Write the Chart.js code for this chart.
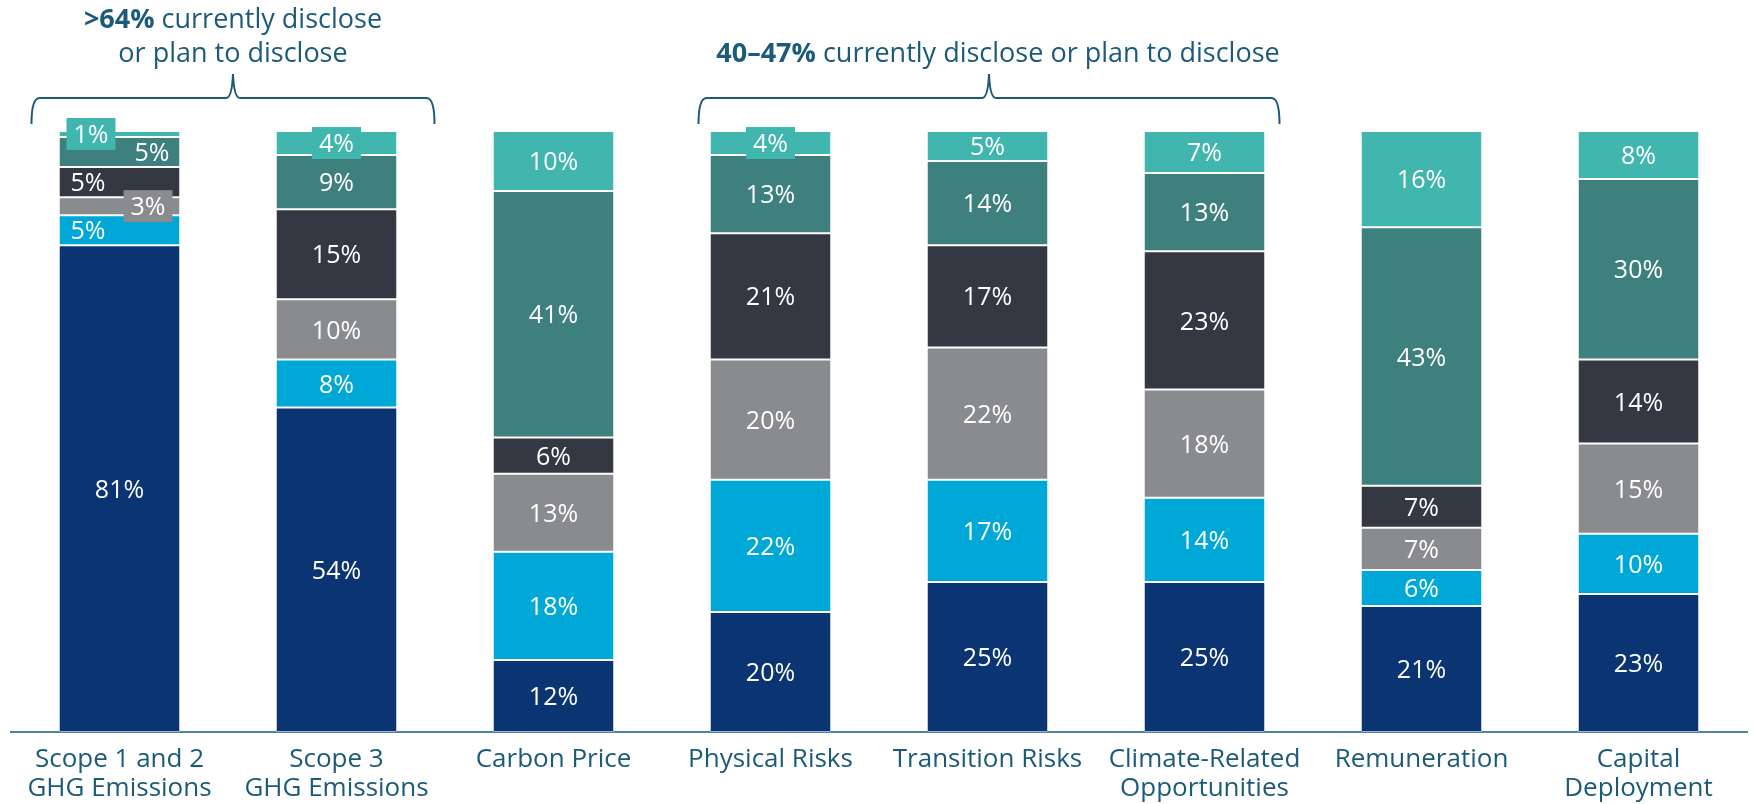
<!DOCTYPE html>
<html>
<head>
<meta charset="utf-8">
<script src="https://cdn.jsdelivr.net/npm/chart.js@4/dist/chart.umd.min.js"></script>
<style>
  html, body { margin: 0; padding: 0; background: #ffffff; }
  canvas { display: block; }
</style>
</head>
<body>
<canvas id="disclosure" width="1755" height="804"></canvas>
<script>
(function () {
    "use strict";

    // Categories along the x axis (multi-line where the label wraps)
    var categories = [
        ['Scope 1 and 2', 'GHG Emissions'],
        ['Scope 3', 'GHG Emissions'],
        'Carbon Price',
        'Physical Risks',
        'Transition Risks',
        ['Climate-Related', 'Opportunities'],
        'Remuneration',
        ['Capital', 'Deployment']
    ];

    // Stacked shares in %, bottom segment first
    var seriesNavy     = [81, 54, 12, 20, 25, 25, 21, 23];
    var seriesBlue     = [5, 8, 18, 22, 17, 14, 6, 10];
    var seriesGray     = [3, 10, 13, 20, 22, 18, 7, 15];
    var seriesCharcoal = [5, 15, 6, 21, 17, 23, 7, 14];
    var seriesTeal     = [5, 9, 41, 13, 14, 13, 43, 30];
    var seriesLight    = [1, 4, 10, 4, 5, 7, 16, 8];

    var TEXT = '#1b5a79';
    var FONT = "'Open Sans', 'DejaVu Sans', sans-serif";

    var colors = ['#0a3572', '#00a8d8', '#898b8f', '#343843', '#3e807e', '#41b6af'];
    var seriesList = [seriesNavy, seriesBlue, seriesGray, seriesCharcoal, seriesTeal, seriesLight];

    // Label placement inside the first bar where segments are thin
    var labelAlign = {
        0: ['center', 'left', 'right', 'left', 'right', 'left']
    };

    var datasets = seriesList.map(function (values, i) {
        return {
            label: 'Series ' + (i + 1),
            data: values,
            backgroundColor: colors[i],
            borderColor: '#ffffff',
            borderWidth: { top: 1, bottom: 1, left: 0, right: 0 },
            borderSkipped: false,
            barPercentage: 0.553,
            categoryPercentage: 1
        };
    });

    // Percent labels on each segment
    var segmentLabels = {
        id: 'segmentLabels',
        afterDatasetsDraw: function (chart) {
            var ctx = chart.ctx;
            ctx.save();
            ctx.font = '25px ' + FONT;
            ctx.textBaseline = 'middle';
            chart.data.datasets.forEach(function (ds, di) {
                var meta = chart.getDatasetMeta(di);
                meta.data.forEach(function (bar, i) {
                    var v = ds.data[i];
                    var txt = v + '%';
                    var cy = (bar.y + bar.base) / 2;
                    var half = bar.width / 2;
                    var left = bar.x - half, right = bar.x + half;
                    var align = (labelAlign[i] && labelAlign[i][di]) || 'center';
                    var h = Math.abs(bar.base - bar.y);
                    var tw = ctx.measureText(txt).width;
                    var cx;
                    if (h < 27) {
                        // thin segment: label sits on a box in the segment colour
                        var bw = tw + 14, bh = 32, bx;
                        if (align === 'left') bx = left + 7;
                        else if (align === 'right') bx = right - 7 - bw;
                        else bx = bar.x - bw / 2;
                        ctx.fillStyle = ds.backgroundColor;
                        ctx.fillRect(bx, cy - bh / 2, bw, bh);
                        cx = bx + bw / 2;
                    } else if (align === 'left') {
                        cx = left + 11 + tw / 2;
                    } else if (align === 'right') {
                        cx = right - 10 - tw / 2;
                    } else {
                        cx = bar.x;
                    }
                    ctx.fillStyle = '#ffffff';
                    ctx.textAlign = 'center';
                    ctx.fillText(txt, cx, cy + 2);
                });
            });
            ctx.restore();
        }
    };

    // Brackets with headline text above groups of bars
    var groups = [
        { from: 0, to: 1, padL: 88, padR: 98, dx: 0, bold: '>64%', lines: [' currently disclose', 'or plan to disclose'] },
        { from: 3, to: 5, padL: 72, padR: 75, dx: 9, bold: '40\u201347%', lines: [' currently disclose or plan to disclose'] }
    ];

    var bracketNotes = {
        id: 'bracketNotes',
        afterDraw: function (chart) {
            var ctx = chart.ctx;
            var x = chart.scales.x;
            var lineY = 98, endY = 124, tipY = 74;
            ctx.save();
            ctx.strokeStyle = TEXT;
            ctx.lineWidth = 2;
            ctx.fillStyle = TEXT;
            ctx.textBaseline = 'middle';
            groups.forEach(function (g) {
                var l = x.getPixelForValue(g.from) - g.padL;
                var r = x.getPixelForValue(g.to) + g.padR;
                var m = (l + r) / 2;

                ctx.beginPath();
                ctx.moveTo(l, endY);
                ctx.quadraticCurveTo(l, lineY, l + 8, lineY);
                ctx.lineTo(m - 7, lineY);
                ctx.quadraticCurveTo(m - 1, lineY, m, tipY);
                ctx.quadraticCurveTo(m + 1, lineY, m + 7, lineY);
                ctx.lineTo(r - 8, lineY);
                ctx.quadraticCurveTo(r, lineY, r, endY);
                ctx.stroke();

                // first line: bold figure followed by regular text
                var tx = m + g.dx;
                var y0 = g.lines.length > 1 ? 20 : 54;
                ctx.font = 'bold 27px ' + FONT;
                var bw = ctx.measureText(g.bold).width;
                ctx.font = '27px ' + FONT;
                var rw = ctx.measureText(g.lines[0]).width;
                var sx = tx - (bw + rw) / 2;
                ctx.textAlign = 'left';
                ctx.font = 'bold 27px ' + FONT;
                ctx.fillText(g.bold, sx, y0);
                ctx.font = '27px ' + FONT;
                ctx.fillText(g.lines[0], sx + bw, y0);
                ctx.textAlign = 'center';
                for (var k = 1; k < g.lines.length; k++) {
                    ctx.fillText(g.lines[k], tx, y0 + 34 * k);
                }
            });
            ctx.restore();
        }
    };

    var ctx = document.getElementById('disclosure').getContext('2d');
    new Chart(ctx, {
        type: 'bar',
        data: { labels: categories, datasets: datasets },
        options: {
            responsive: false,
            animation: false,
            layout: { padding: { left: 11, right: 8, top: 131, bottom: -12 } },
            plugins: {
                legend: { display: false },
                tooltip: { enabled: false }
            },
            scales: {
                x: {
                    stacked: true,
                    grid: { display: false, drawTicks: false },
                    border: { display: true, color: '#4d84a0', width: 2 },
                    ticks: {
                        color: TEXT,
                        padding: 12,
                        maxRotation: 0,
                        autoSkip: false,
                        font: { family: FONT, size: 26, lineHeight: 1.15 }
                    }
                },
                y: {
                    stacked: true,
                    display: false,
                    min: 0,
                    max: 100
                }
            }
        },
        plugins: [segmentLabels, bracketNotes]
    });
})();
</script>
</body>
</html>
